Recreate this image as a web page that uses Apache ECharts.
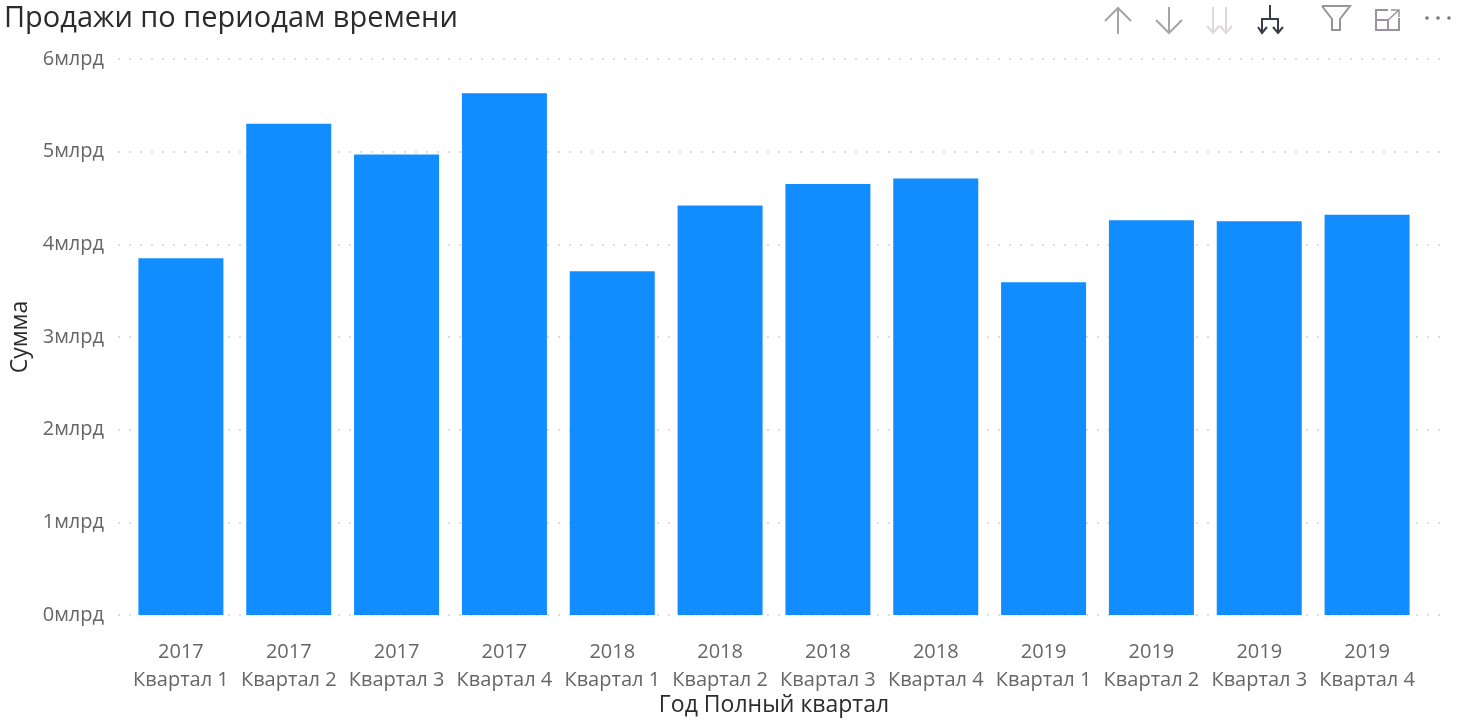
<!DOCTYPE html>
<html><head><meta charset="utf-8">
<style>html,body{margin:0;padding:0;background:#fff}#c{width:1458px;height:720px}</style>
<script src="https://cdn.jsdelivr.net/npm/echarts@6/dist/echarts.min.js"></script></head>
<body><div id="c"></div>
<script>
const years = ['2017','2017','2017','2017','2018','2018','2018','2018','2019','2019','2019','2019'];
const quarters = ['Квартал 1','Квартал 2','Квартал 3','Квартал 4','Квартал 1','Квартал 2','Квартал 3','Квартал 4','Квартал 1','Квартал 2','Квартал 3','Квартал 4'];
const sales = [3.85,5.30,4.97,5.63,3.71,4.42,4.65,4.71,3.59,4.26,4.25,4.32];
const categories = years.map((y,i)=>y+'\n'+quarters[i]);
const FONT = '"Open Sans","Noto Sans",sans-serif';
const chart = echarts.init(document.getElementById('c'),null,{renderer:'canvas'});
const line = (pts,color,w=2)=>({type:'polyline',silent:true,shape:{points:pts},style:{stroke:color,lineWidth:w,fill:null}});
const grey='#a5a5a5', light='#dcd8dc', dark='#3a3a4a', mid='#9a929c';
chart.setOption({
  animation:false,
  backgroundColor:'#fff',
  title:{text:'Продажи по периодам времени',left:-1,top:-1,textStyle:{fontFamily:FONT,fontWeight:400,fontSize:29,color:'#2b2b2b'}},
  grid:[
    {left:118,right:9,top:59,height:556,outerBoundsMode:'none'},
    {left:127,right:37,top:59,height:556,outerBoundsMode:'none'}
  ],
  xAxis:[
    {gridIndex:0,type:'value',show:false,min:0,max:1},
    {gridIndex:1,type:'category',data:categories,
     name:'Год Полный квартал',nameLocation:'middle',nameGap:79,nameMoveOverlap:false,
     nameTextStyle:{fontFamily:FONT,fontSize:23,color:'#2b2b2b'},
     axisLine:{show:false},axisTick:{show:false},
     axisLabel:{interval:0,margin:23,fontFamily:FONT,fontSize:20,lineHeight:28,color:'#666'}}
  ],
  yAxis:[
    {gridIndex:0,type:'value',min:0,max:6,interval:1,
     name:'Сумма',nameLocation:'middle',nameGap:86,
     nameTextStyle:{fontFamily:FONT,fontSize:23,color:'#2b2b2b'},
     axisLine:{show:false},axisTick:{show:false},
     axisLabel:{margin:14,fontFamily:FONT,fontSize:20,color:'#666',formatter:v=>v+'млрд'},
     splitLine:{show:true,lineStyle:{type:[2,9],width:2,color:'#dedede'}}},
    {gridIndex:1,type:'value',min:0,max:6,interval:1,show:false,splitLine:{show:false}}
  ],
  series:[{type:'bar',xAxisIndex:1,yAxisIndex:1,data:sales,barWidth:85,itemStyle:{color:'#118dff'}}],
  graphic:[
    line([[1118,34],[1118,8]],grey),line([[1105,21],[1118,8],[1131,21]],grey),
    line([[1169,7],[1169,33]],grey),line([[1156,20],[1169,33],[1182,20]],grey),
    line([[1213,7],[1213,33]],light),line([[1207,26],[1213,33],[1219,26]],light),
    line([[1226,7],[1226,33]],light),line([[1220,26],[1226,33],[1232,26]],light),
    line([[1270,5],[1270,19]],dark),line([[1262,32],[1262,19],[1278,19],[1278,32]],dark),
    line([[1258,27],[1262,33],[1267,27]],dark),line([[1273,27],[1278,33],[1283,27]],dark),
    line([[1322,6],[1350,6],[1340,19],[1340,30],[1332,30],[1332,19],[1322,6]],mid),
    line([[1399,18],[1399,30],[1376,30],[1376,10],[1388,10]],mid),
    line([[1376,20],[1388,20],[1388,30]],mid),
    line([[1388,20],[1399,10]],mid,1.5),line([[1391,10],[1399,10],[1399,17]],mid,1.5),
    {type:'circle',silent:true,shape:{cx:1427,cy:18,r:1.8},style:{fill:'#777'}},
    {type:'circle',silent:true,shape:{cx:1438,cy:18,r:1.8},style:{fill:'#777'}},
    {type:'circle',silent:true,shape:{cx:1449,cy:18,r:1.8},style:{fill:'#777'}}
  ]
});
</script></body></html>
